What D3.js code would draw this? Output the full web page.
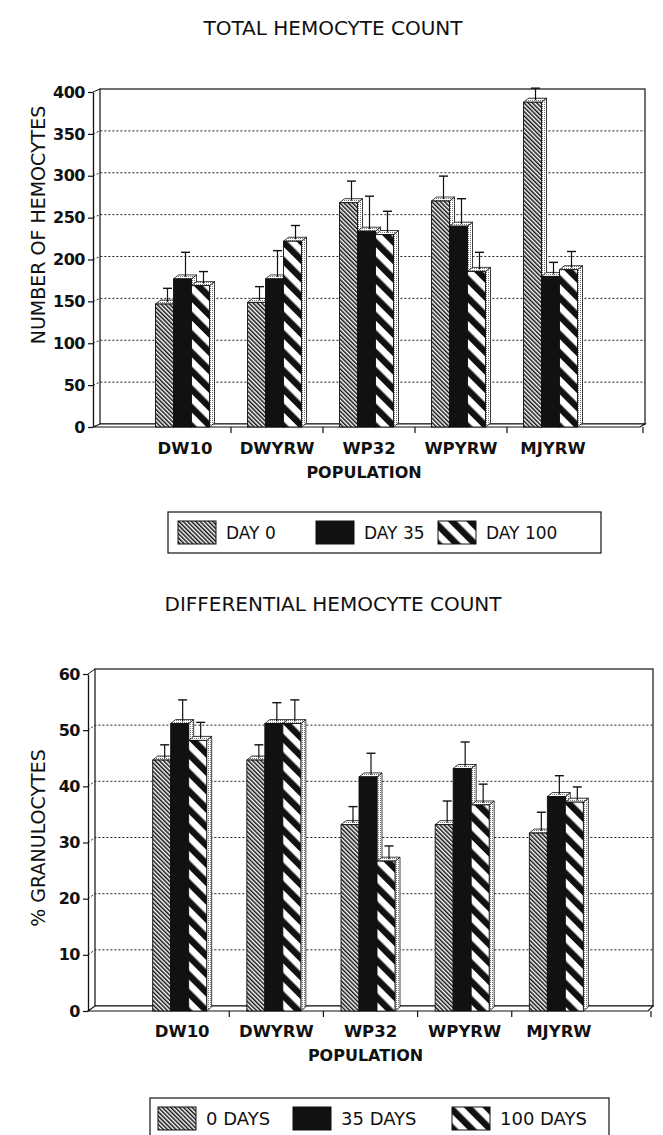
<!DOCTYPE html>
<html>
<head>
<meta charset="utf-8">
<script src="https://cdn.jsdelivr.net/npm/d3@7"></script>
<style>
  body { margin: 0; background: #fff; }
  svg { display: block; font-family: "DejaVu Sans", "Liberation Sans", Arial, sans-serif; }
</style>
</head>
<body>
<div id="chart"></div>
<script>
const populations = ["DW10", "DWYRW", "WP32", "WPYRW", "MJYRW"];

// total hemocyte count (value, error)
const totalDay0 = [148, 150, 269, 271, 389];
const totalDay0Err = [14, 14, 21, 25, 12];
const totalDay35 = [178, 178, 235, 241, 181];
const totalDay35Err = [27, 29, 37, 28, 12];
const totalDay100 = [170, 223, 231, 187, 189];
const totalDay100Err = [12, 14, 23, 18, 17];
const totalTicks = [0, 50, 100, 150, 200, 250, 300, 350, 400];
const totalLegend = ["DAY 0", "DAY 35", "DAY 100"];

// differential count, % granulocytes
const diffDay0 = [44.5, 44.5, 33, 33, 31.5];
const diffDay0Err = [2, 2, 2.5, 3.5, 3];
const diffDay35 = [51, 51, 41.5, 43, 38];
const diffDay35Err = [3.5, 3, 3.5, 4, 3];
const diffDay100 = [48, 51, 26.5, 36.5, 37];
const diffDay100Err = [2.5, 3.5, 2, 3, 2];
const diffTicks = [0, 10, 20, 30, 40, 50, 60];
const diffLegend = ["0 DAYS", "35 DAYS", "100 DAYS"];

const W = 663, H = 1135;
const svg = d3.select("#chart").append("svg")
    .attr("width", W)
    .attr("height", H);

// fill patterns
const defs = svg.append("defs");
let fine = defs.append("pattern")
    .attr("id", "fine").attr("patternUnits", "userSpaceOnUse")
    .attr("width", 3).attr("height", 3)
    .attr("patternTransform", "rotate(-45)");
fine.append("rect").attr("width", 3).attr("height", 3).attr("fill", "#fff");
fine.append("rect").attr("width", 1.5).attr("height", 3).attr("fill", "#111");

let wide = defs.append("pattern")
    .attr("id", "wide").attr("patternUnits", "userSpaceOnUse")
    .attr("width", 13).attr("height", 13)
    .attr("patternTransform", "rotate(-45)");
wide.append("rect").attr("width", 13).attr("height", 13).attr("fill", "#fff");
wide.append("rect").attr("width", 6.5).attr("height", 13).attr("fill", "#111");

let dots = defs.append("pattern")
    .attr("id", "dots").attr("patternUnits", "userSpaceOnUse")
    .attr("width", 2).attr("height", 2);
dots.append("rect").attr("width", 2).attr("height", 2).attr("fill", "#fff");
dots.append("rect").attr("width", 1).attr("height", 1).attr("fill", "#777");

const fills = ["url(#fine)", "#111", "url(#wide)"];

function drawChart(cfg) {
    const g = svg.append("g");
    const dx = 7, dy = cfg.offY;

    const yb = d3.scaleLinear()
        .domain([0, d3.max(cfg.ticks)])
        .range([cfg.y0, cfg.yTop]);
    const yf = v => yb(v) + dy;

    const x = d3.scaleBand()
        .domain(populations)
        .range([cfg.axisX, cfg.right])
        .paddingInner(0)
        .paddingOuter(0.5);

    const wallL = cfg.axisX + dx;

    // back wall
    g.append("rect")
        .attr("x", wallL).attr("y", yb(d3.max(cfg.ticks)))
        .attr("width", cfg.right - wallL)
        .attr("height", yb(0) - yb(d3.max(cfg.ticks)))
        .attr("fill", "none").attr("stroke", "#111").attr("stroke-width", 1.2);

    // gridlines
    cfg.ticks.slice(1, -1).forEach(t => {
        g.append("path")
            .attr("d", `M${cfg.axisX},${yf(t)}L${wallL},${yb(t)}L${cfg.right},${yb(t)}`)
            .attr("fill", "none").attr("stroke", "#222")
            .attr("stroke-width", 1).attr("stroke-dasharray", "2,2");
    });

    // left wall top edge and floor
    g.append("line")
        .attr("x1", cfg.axisX).attr("y1", yf(d3.max(cfg.ticks)))
        .attr("x2", wallL).attr("y2", yb(d3.max(cfg.ticks)))
        .attr("stroke", "#111");
    g.append("path")
        .attr("d", `M${cfg.axisX},${yf(0)}L${wallL},${yb(0)}L${cfg.right},${yb(0)}L${cfg.right - dx + 2},${yf(0)}Z`)
        .attr("fill", "#fff").attr("stroke", "#111").attr("stroke-width", 1.2);

    // y axis
    const yAxis = d3.axisLeft(d3.scaleLinear().domain(yb.domain()).range([yf(0), yf(d3.max(cfg.ticks))]))
        .tickValues(cfg.ticks)
        .tickSize(5)
        .tickSizeOuter(0)
        .tickPadding(3);
    const ya = g.append("g")
        .attr("transform", `translate(${cfg.axisX},0)`)
        .call(yAxis);
    ya.select(".domain").attr("stroke", "#111").attr("stroke-width", 1.3);
    ya.selectAll(".tick line").attr("stroke", "#111").attr("stroke-width", 1.2);
    ya.selectAll(".tick text")
        .attr("fill", "#111")
        .style("font-family", "DejaVu Sans")
        .style("font-size", "16px")
        .style("font-weight", "bold")
        .style("letter-spacing", "-0.5px");

    // x axis ticks at category boundaries and at the right end
    const bounds = populations.slice(0, -1).map(p => x(p) + x.bandwidth());
    bounds.push(cfg.right - 2);
    g.selectAll(".xtick")
        .data(bounds)
        .enter().append("line")
        .attr("x1", d => d).attr("x2", d => d)
        .attr("y1", yf(0)).attr("y2", yf(0) + 6)
        .attr("stroke", "#111").attr("stroke-width", 1.2);

    // category labels
    const xAxis = d3.axisBottom(x).tickSize(0).tickPadding(0);
    const xa = g.append("g")
        .attr("transform", `translate(0,${cfg.labelY})`)
        .call(xAxis);
    xa.select(".domain").remove();
    xa.selectAll(".tick text")
        .attr("fill", "#111")
        .attr("dy", 0)
        .style("font-family", "DejaVu Sans")
        .style("font-size", "16.5px")
        .style("font-weight", "bold");

    // bars
    const barW = 18, bdx = 5, bdy = 4;
    cfg.series.forEach((s, si) => {
        populations.forEach((p, i) => {
            const v = s.values[i];
            const x0 = x(p) + x.bandwidth() / 2 - (3 * barW + bdx) / 2 + si * barW;
            const top = yb(v) + bdy;
            const bot = yf(0);
            g.append("path")
                .attr("d", `M${x0 + barW},${top}L${x0 + barW + bdx},${top - bdy}L${x0 + barW + bdx},${bot - bdy}L${x0 + barW},${bot}Z`)
                .attr("fill", "url(#dots)").attr("stroke", "#111").attr("stroke-width", 0.8);
            g.append("path")
                .attr("d", `M${x0},${top}L${x0 + bdx},${top - bdy}L${x0 + barW + bdx},${top - bdy}L${x0 + barW},${top}Z`)
                .attr("fill", "url(#dots)").attr("stroke", "#111").attr("stroke-width", 0.8);
            g.append("rect")
                .attr("x", x0).attr("y", top)
                .attr("width", barW).attr("height", bot - top)
                .attr("fill", fills[si]).attr("stroke", "#111").attr("stroke-width", 0.9);
            // error bar
            const ex = x0 + barW / 2 + 3;
            const eTop = yb(v + s.err[i]);
            g.append("line")
                .attr("x1", ex).attr("x2", ex)
                .attr("y1", top - bdy / 2).attr("y2", eTop)
                .attr("stroke", "#111").attr("stroke-width", 1.2);
            g.append("line")
                .attr("x1", ex - 4.5).attr("x2", ex + 4.5)
                .attr("y1", eTop).attr("y2", eTop)
                .attr("stroke", "#111").attr("stroke-width", 1.4);
        });
    });

    // titles
    svg.append("text")
        .attr("x", 333).attr("y", cfg.titleY)
        .attr("text-anchor", "middle")
        .style("font-size", "20px")
        .attr("fill", "#111")
        .text(cfg.title);
    svg.append("text")
        .attr("x", (cfg.axisX + cfg.right) / 2 - 5).attr("y", cfg.labelY + 24)
        .attr("text-anchor", "middle")
        .style("font-size", "16px").style("font-weight", "bold")
        .attr("fill", "#111")
        .text("POPULATION");
    svg.append("text")
        .attr("transform", `translate(45, ${cfg.yLabelMid}) rotate(-90)`)
        .attr("text-anchor", "middle")
        .style("font-size", "19px")
        .attr("fill", "#111")
        .text(cfg.yLabel);

    // legend
    const lg = svg.append("g");
    lg.append("rect")
        .attr("x", cfg.legend.x).attr("y", cfg.legend.y)
        .attr("width", cfg.legend.w).attr("height", cfg.legend.h)
        .attr("fill", "#fff").attr("stroke", "#111").attr("stroke-width", 1.2);
    cfg.legendNames.forEach((name, i) => {
        const sx = cfg.legend.items[i];
        lg.append("rect")
            .attr("x", sx).attr("y", cfg.legend.y + 9)
            .attr("width", 38).attr("height", 23)
            .attr("fill", fills[i]).attr("stroke", "#111").attr("stroke-width", 1);
        lg.append("text")
            .attr("x", sx + 48).attr("y", cfg.legend.y + 27)
            .style("font-size", cfg.legend.fs)
            .attr("fill", "#111")
            .text(name);
    });
}

drawChart({
    title: "TOTAL HEMOCYTE COUNT",
    titleY: 35,
    yLabel: "NUMBER OF HEMOCYTES",
    yLabelMid: 225,
    ticks: totalTicks,
    axisX: 93, right: 645,
    y0: 424, yTop: 89, offY: 3,
    labelY: 454,
    series: [
        {values: totalDay0, err: totalDay0Err},
        {values: totalDay35, err: totalDay35Err},
        {values: totalDay100, err: totalDay100Err}
    ],
    legendNames: totalLegend,
    legend: {x: 168, y: 512, w: 433, h: 41, fs: "17px", items: [178, 316, 438]}
});

drawChart({
    title: "DIFFERENTIAL HEMOCYTE COUNT",
    titleY: 611,
    yLabel: "% GRANULOCYTES",
    yLabelMid: 838,
    ticks: diffTicks,
    axisX: 88, right: 653,
    y0: 1006, yTop: 669, offY: 5,
    labelY: 1037,
    series: [
        {values: diffDay0, err: diffDay0Err},
        {values: diffDay35, err: diffDay35Err},
        {values: diffDay100, err: diffDay100Err}
    ],
    legendNames: diffLegend,
    legend: {x: 150, y: 1098, w: 459, h: 45, fs: "18px", items: [158, 293, 452]}
});
</script>
</body>
</html>
